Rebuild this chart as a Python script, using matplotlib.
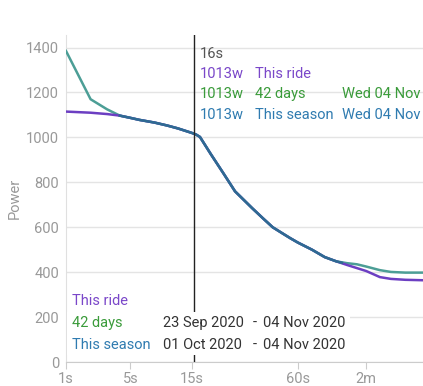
import matplotlib
matplotlib.use("Agg")
from matplotlib import pyplot as plt
from matplotlib.patches import Rectangle
import numpy as np

plt.rcParams['font.family'] = ['Roboto', 'DejaVu Sans']

# durations in seconds
ride_t = [1, 2, 3, 4, 5, 6, 8, 10, 12, 15, 16, 17, 20, 24, 28, 35, 40, 45, 50, 55, 60, 70, 80, 90,
          100, 110, 120, 136, 150, 170, 197]
ride_w = [1115, 1110, 1104, 1097, 1087, 1078, 1066, 1053, 1040, 1020, 1013, 1002, 925, 838, 760, 685,
          640, 600, 575, 552, 532, 500, 467, 448, 432, 418, 405, 378, 370, 366, 364]
days42_t = ride_t
days42_w = [1385, 1170, 1125, 1097, 1087, 1078, 1066, 1053, 1040, 1020, 1013, 1002, 925, 838, 760, 685,
            640, 600, 575, 552, 532, 500, 467, 448, 440, 435, 425, 409, 401, 398, 398]
season_t = [4, 5, 6, 8, 10, 12, 15, 16, 17, 20, 24, 28, 35, 40, 45, 50, 55, 60, 70, 80, 90, 95]
season_w = [1097, 1087, 1078, 1066, 1053, 1040, 1020, 1013, 1002, 925, 838, 760, 685,
            640, 600, 575, 552, 532, 500, 467, 448, 442]

xticks = [1, 5, 15, 60, 120]
xtick_labels = ['1s', '5s', '15s', '60s', '2m']
yticks = [0, 200, 400, 600, 800, 1000, 1200, 1400]

cursor_t = 15.6  # mouse position (reads as 16s)
purple = '#6c3fc2'
teal = '#4c9e96'
blue = '#2e6b92'
txt_purple = '#7a47c9'
txt_green = '#3a9b3a'
txt_blue = '#2f7bb0'

W, H = 423, 386
fig = plt.figure(figsize=(W / 100, H / 100), dpi=100)
ax = fig.add_axes([66 / W, 24 / H, 357 / W, 327 / H])
ax.set_xscale('function', functions=(lambda x: np.power(np.clip(x, 1e-9, None), 0.25),
                                     lambda x: np.power(x, 4)))
ax.set_xlim(1, 197)
ax.set_ylim(0, 1456)

ax.plot(days42_t, days42_w, color=teal, lw=1.8, zorder=3)
ax.plot(ride_t, ride_w, color=purple, lw=1.8, zorder=4)
ax.plot(season_t, season_w, color=blue, lw=1.8, zorder=5)
ax.axvline(cursor_t, color='#222222', lw=1, zorder=6)

ax.set_xticks(xticks)
ax.set_xticklabels(xtick_labels)
ax.set_yticks(yticks)
ax.grid(axis='y', color='#e4e4e4', lw=1)
ax.set_axisbelow(True)
for s in ['top', 'right']:
    ax.spines[s].set_visible(False)
ax.spines['left'].set_color('#e0e0e0')
ax.spines['bottom'].set_color('#cccccc')
ax.tick_params(axis='x', colors='#cccccc', length=5, labelcolor='#999999', labelsize=10.5, pad=2)
ax.tick_params(axis='y', length=0, labelcolor='#999999', labelsize=10.5, pad=5)
ax.set_ylabel('Power', color='#999999', fontsize=10.5, labelpad=3)


def px(x, y):
    return x / W, (H - y) / H


# hover readout
fs = 10.5
fig.text(*px(200, 54), '16s', color='#555555', fontsize=fs, va='center')
rows = [('1013w', 'This ride', '', txt_purple),
        ('1013w', '42 days', 'Wed 04 Nov', txt_green),
        ('1013w', 'This season', 'Wed 04 Nov', txt_blue)]
for i, (w, name, date, c) in enumerate(rows):
    y = 73.5 + i * 20.7
    fig.text(*px(200, y), w, color=c, fontsize=fs, va='center')
    fig.text(*px(255, y), name, color=c, fontsize=fs, va='center')
    fig.text(*px(342, y), date, color=c, fontsize=fs, va='center')

# date range legend, on a white panel that hides the cursor line
fig.patches.append(Rectangle(px(67, 355), (350 - 67) / W, 43 / H,
                             transform=fig.transFigure, facecolor='white', edgecolor='none', zorder=7))
legend = [('This ride', txt_purple, '', ''),
          ('42 days', txt_green, '23 Sep 2020', '04 Nov 2020'),
          ('This season', txt_blue, '01 Oct 2020', '04 Nov 2020')]
for i, (name, c, d1, d2) in enumerate(legend):
    y = 301 + i * 22
    fig.text(*px(72, y), name, color=c, fontsize=fs, va='center', zorder=8)
    if d1:
        fig.text(*px(163, y), d1, color='#333333', fontsize=fs, va='center', zorder=8)
        fig.text(*px(253, y), '-', color='#333333', fontsize=fs, va='center', zorder=8)
        fig.text(*px(263, y), d2, color='#333333', fontsize=fs, va='center', zorder=8)

fig.savefig('out.png', dpi=100)
